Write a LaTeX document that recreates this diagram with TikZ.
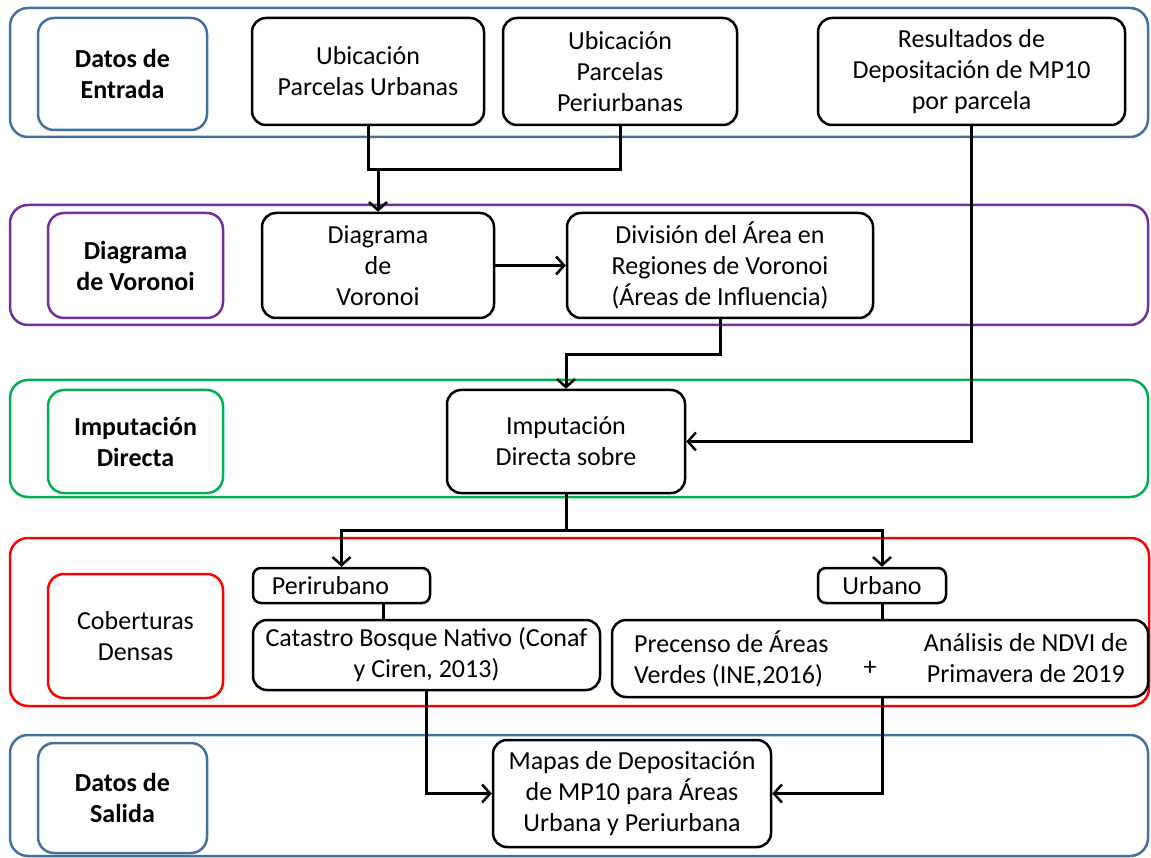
\documentclass[tikz,border=0pt]{standalone}
\usepackage{fontspec}
\setmainfont{Carlito}
\usetikzlibrary{arrows.meta}
\definecolor{bblue}{RGB}{65,113,156}
\definecolor{bpurple}{RGB}{112,48,160}
\definecolor{bgreen}{RGB}{0,176,80}
\definecolor{bred}{RGB}{255,0,0}
\begin{document}
\begin{tikzpicture}[x=1pt,y=-1pt,
 band/.style={draw, line width=2.5pt, rounded corners=18pt, inner sep=0pt},
 lbl/.style={draw, line width=2.5pt, rounded corners=16pt, align=center, inner sep=0pt, font=\fontsize{26}{31}\selectfont\bfseries},
 bx/.style={draw=black, line width=2.5pt, rounded corners=14pt, align=center, inner sep=0pt, font=\fontsize{26}{31}\selectfont},
 txt/.style={inner sep=0pt, font=\fontsize{26}{31}\selectfont},
 ln/.style={line width=3pt},
 arr/.style={line width=3pt, -{Straight Barb[length=8pt,width=18pt,line width=2.5pt]}}]
\useasboundingbox (0,0) rectangle (1151,858);
% bands
\node[band, draw=bblue, minimum width=1138pt, minimum height=129pt] (b1) at (579,72.5) {};
\node[band, draw=bpurple, minimum width=1138pt, minimum height=120pt] (b2) at (579,265) {};
\node[band, draw=bgreen, minimum width=1138pt, minimum height=117pt] (b3) at (579,438.5) {};
\node[band, draw=bred, minimum width=1139pt, minimum height=168pt] (b4) at (579.5,622) {};
\node[band, draw=bblue, minimum width=1138pt, minimum height=121pt] (b5) at (579,795.5) {};
% labels
\node[lbl, draw=bblue, minimum width=169pt, minimum height=112pt] (l1) at (122.5,74) {Datos de\\Entrada};
\node[lbl, draw=bpurple, minimum width=175pt, minimum height=105pt] (l2) at (135.5,265.5) {Diagrama\\de Voronoi};
\node[lbl, draw=bgreen, minimum width=175pt, minimum height=103pt] (l3) at (135.5,441.5) {Imputación\\Directa};
\node[lbl, draw=bred, minimum width=175pt, minimum height=124pt, font=\fontsize{26}{31}\selectfont] (l4) at (135.5,636) {Coberturas\\Densas};
\node[lbl, draw=bblue, minimum width=169pt, minimum height=110pt] (l5) at (122.5,798) {Datos de\\Salida};
% boxes
\node[bx, minimum width=232pt, minimum height=107pt] (urb) at (368,71.5) {Ubicación\\Parcelas Urbanas};
\node[bx, minimum width=234pt, minimum height=107pt] (peri) at (620,71.5) {Ubicación\\Parcelas\\Periurbanas};
\node[bx, minimum width=307pt, minimum height=107pt] (res) at (971.5,71.5) {Resultados de\\Depositación de MP10\\por parcela};
\node[bx, minimum width=232pt, minimum height=105pt] (dv) at (378,265.5) {Diagrama\\de\\Voronoi};
\node[bx, minimum width=306pt, minimum height=105pt] (div) at (720,265.5) {División del Área en\\Regiones de Voronoi\\(Áreas de Influencia)};
\node[bx, minimum width=238pt, minimum height=103pt] (imp) at (566,441.5) {Imputación\\Directa sobre};
\node[bx, minimum width=177pt, minimum height=35pt, rounded corners=8pt] (perib) at (341.5,585.5) {\hspace*{-22pt}Perirubano};
\node[bx, minimum width=128pt, minimum height=35pt, rounded corners=8pt] (urbn) at (882,585.5) {Urbano};
\node[bx, minimum width=347pt, minimum height=70pt] (cat) at (426.5,655) {Catastro Bosque Nativo (Conaf\\y Ciren, 2013)};
\node[bx, minimum width=536pt, minimum height=77pt] (pre) at (880,658.5) {};
\node[txt, anchor=west, align=left] (pre1) at (634,658.5) {Precenso de Áreas\\Verdes (INE,2016)};
\node[txt] (plus) at (870,668) {+};
\node[txt, anchor=east, align=center] (pre2) at (1128,658.5) {Análisis de NDVI de\\Primavera de 2019};
\node[bx, minimum width=278pt, minimum height=107pt] (map) at (632,793.5) {Mapas de Depositación\\de MP10 para Áreas\\Urbana y Periurbana};
% connectors
\coordinate (j1) at (378,170);
\coordinate (j2) at (566,355);
\coordinate (j3) at (566,530);
\coordinate (pc) at (383,0);
\draw[ln] (urb.south) |- (peri.south |- j1) -- (peri.south);
\draw[arr] (j1) -- (dv.north);
\draw[arr] (dv.east) -- (div.west);
\draw[arr] (div.south) |- (j2) -- (imp.north);
\draw[arr] (res.south) |- (imp.east);
\draw[ln] (imp.south) -- (j3);
\draw[arr] (j3) -| (perib.north);
\draw[arr] (j3) -| (urbn.north);
\draw[ln] (perib.south -| pc) -- (cat.north -| pc);
\draw[ln] (urbn.south) -- (pre.north -| urbn.south);
\draw[arr] (cat.south) |- (map.west);
\draw[arr] (pre.south -| urbn.south) |- (map.east);
\end{tikzpicture}
\end{document}
